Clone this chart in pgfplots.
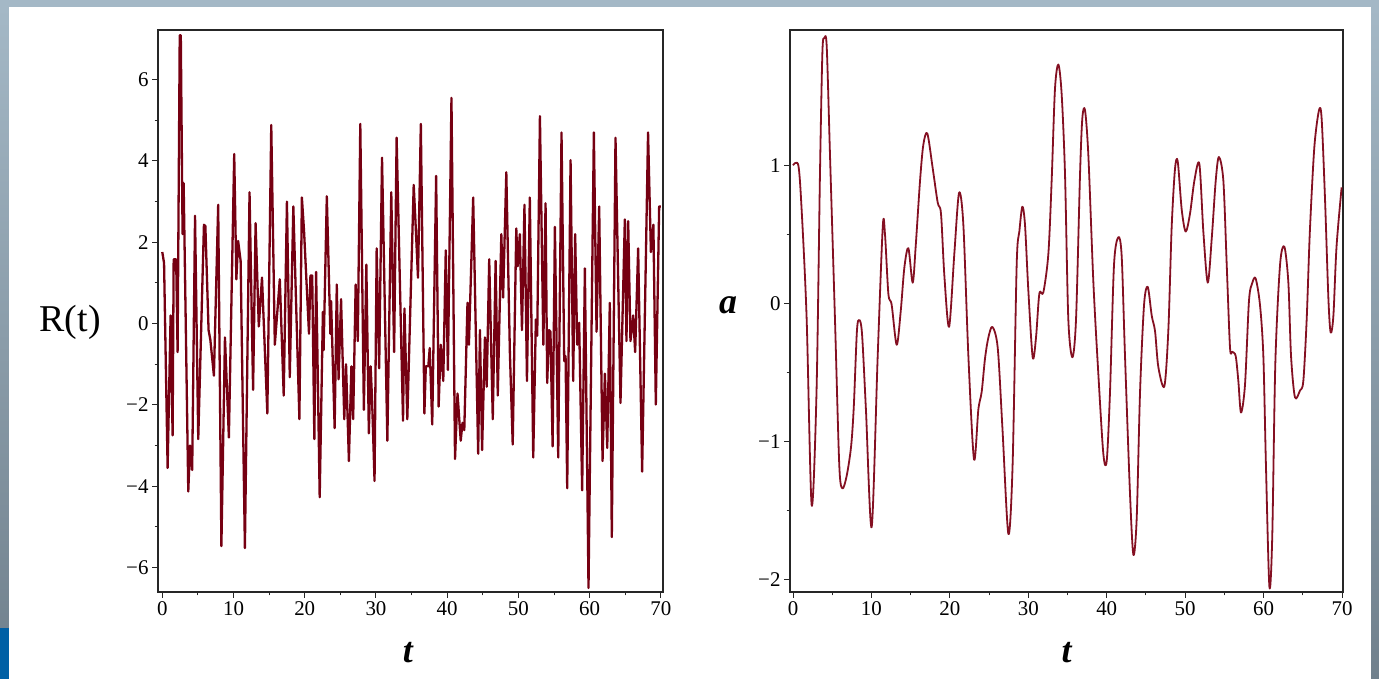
\documentclass[border=0pt]{standalone}
\usepackage{fontspec}
\setmainfont{Liberation Serif}
\usepackage{pgfplots}
\pgfplotsset{compat=1.18}
\definecolor{maroonL}{RGB}{118,0,18}
\definecolor{maroonR}{RGB}{132,16,34}
\definecolor{frameA}{RGB}{164,184,198}
\definecolor{frameB}{RGB}{112,128,140}
\definecolor{bluebar}{RGB}{0,96,165}
\pgfplotsset{
  mystyle/.style={
    scale only axis,
    axis line style={black!85, line width=1.2bp},
    tick style={black!85, line width=1bp},
    tick align=outside,
    tick pos=left,
    major tick length=6bp,
    minor tick length=3.5bp,
    minor x tick num=1,
    minor y tick num=1,
    ticklabel style={font=\fontsize{21}{24}\selectfont},
    /pgf/number format/assume math mode=true,
    xtick={0,10,...,70},
  }
}
\begin{document}
\begin{tikzpicture}[x=1bp,y=1bp]
\useasboundingbox (0,0) rectangle (1379,679);
\fill[frameA] (0,672) rectangle (1379,679);
\shade[top color=frameA,bottom color=frameB] (0,0) rectangle (9,672);
\shade[top color=frameA,bottom color=frameB] (1371,0) rectangle (1379,672);
\fill[bluebar] (0,0) rectangle (9,51);
\fill[white] (9,0) rectangle (1371,672);

\begin{axis}[mystyle, at={(158bp,87bp)}, anchor=south west,
  width=505bp, height=562bp,
  xmin=-0.6, xmax=70.3, ymin=-6.6, ymax=7.22,
  ytick={-6,-4,-2,0,2,4,6}, yticklabels={−6,−4,−2,0,2,4,6},
  xlabel={\fontsize{36}{40}\selectfont\bfseries\itshape t},
  xlabel style={at={(axis description cs:0.495,-0.107)}, anchor=center, inner sep=0pt},
  ylabel={\fontsize{38}{40}\selectfont R(t)},
  ylabel style={at={(axis description cs:-0.174,0.48)}, anchor=center, rotate=-90, inner sep=0pt},
]
\addplot[maroonL, line width=2.3bp, line join=round] coordinates {
(0,1.76) (0.25,1.49) (0.75,-3.55) (1.17,0.2) (1.45,-2.75) (1.6,1.58) (1.95,1.58) (2.15,-0.7)
(2.45,7.09) (2.6,7.09) (2.85,2.2) (3.0,3.45) (3.65,-4.13) (3.9,-3.0) (4.2,-3.6) (4.6,2.65)
(5.05,-2.84) (5.85,2.43) (6.05,2.4) (6.5,-0.16) (6.75,-0.4) (7.25,-1.28) (7.85,2.92) (8.3,-5.47)
(8.8,-0.34) (9.35,-2.8) (10.1,4.17) (10.4,1.09) (10.65,2.03) (11.0,1.54) (11.6,-5.52) (12.25,3.23)
(12.75,-1.63) (13.1,2.47) (13.55,-0.07) (14.0,1.13) (14.75,-2.21) (15.3,4.88) (15.8,-0.52) (16.5,1.09)
(17.05,-1.77) (17.5,3.0) (17.9,-1.32) (18.4,2.88) (19.25,-2.35) (19.6,3.1) (19.9,2.29) (20.6,-0.25)
(20.8,1.18) (21.05,1.18) (21.35,-2.84) (21.6,1.27) (22.1,-4.27) (22.55,0.29) (22.65,-0.65) (23.1,3.13)
(23.6,-0.25) (23.7,0.55) (24.2,-2.57) (24.5,0.96) (24.75,-1.37) (25.1,0.6) (25.55,-2.35) (25.8,-1.0)
(26.2,-3.38) (26.55,-1.05) (26.8,-2.35) (27.15,0.96) (27.45,-0.43) (27.8,4.91) (28.3,-2.12) (28.65,1.45)
(29.0,-2.7) (29.25,-1.05) (29.45,-1.85) (29.8,-3.87) (30.1,1.85) (30.45,-1.1) (30.85,4.08) (31.6,-2.88)
(32.15,3.23) (32.55,-0.7) (32.9,4.57) (33.8,-2.39) (34.0,0.37) (34.4,-2.35) (35.3,3.41) (35.55,2.5)
(35.9,1.13) (36.3,4.91) (36.8,-2.21) (37.0,-1.05) (37.35,-1.05) (37.55,-0.6) (37.9,-2.48) (38.45,3.63)
(38.8,-2.04) (39.1,-0.52) (39.45,-1.41) (39.8,1.8) (40.1,-1.14) (40.6,5.55) (41.1,-3.33) (41.45,-1.72)
(41.9,-2.88) (42.15,-2.44) (42.4,-2.62) (42.85,0.51) (43.05,-0.52) (43.65,3.1) (44.35,-3.2) (44.6,-0.16)
(44.9,-3.11) (45.3,-0.34) (45.55,-1.55) (45.9,1.58) (46.4,-2.35) (46.8,1.54) (47.1,-1.77) (47.6,2.2)
(47.85,0.64) (48.3,3.72) (48.8,-0.7) (49.2,-2.97) (49.7,2.34) (49.9,1.41) (50.2,2.2) (50.5,-0.16)
(50.85,2.92) (51.2,-1.41) (51.6,3.1) (52.08,-3.29) (52.45,0.1) (52.64,-0.3) (53.02,5.1) (53.5,-0.52)
(53.81,2.96) (54.04,-1.46) (54.3,-0.16) (54.5,-0.2) (54.8,-3.02) (55.12,2.38) (55.59,-3.29) (56.05,4.7)
(56.43,-0.92) (56.62,-0.8) (56.85,-4.05) (57.32,4.02) (57.69,-1.41) (57.97,2.2) (58.25,-0.52) (58.53,0.02)
(58.95,-4.1) (59.33,1.36) (59.84,-6.5) (60.59,4.7) (60.97,-0.2) (61.34,2.88) (61.81,-3.38) (62.14,-1.23)
(62.47,-3.06) (62.83,0.51) (63.11,-5.25) (63.63,4.57) (64.33,-1.95) (64.94,2.56) (65.17,-0.43) (65.41,2.52)
(65.73,-0.43) (66.11,0.2) (66.39,-0.7) (66.81,1.85) (67.37,-3.64) (68.2,4.7) (68.6,1.76) (68.95,2.43)
(69.29,-1.99) (69.76,2.88) (70.0,2.88)
};
\end{axis}

\begin{axis}[mystyle, at={(790bp,87bp)}, anchor=south west,
  width=553bp, height=562bp,
  xmin=-0.38, xmax=70.13, ymin=-2.09, ymax=1.98,
  ytick={-2,-1,0,1}, yticklabels={−2,−1,0,1},
  xlabel={\fontsize{36}{40}\selectfont\bfseries\itshape t},
  xlabel style={at={(axis description cs:0.5,-0.107)}, anchor=center, inner sep=0pt},
  ylabel={\fontsize{36}{40}\selectfont\bfseries\itshape a},
  ylabel style={at={(axis description cs:-0.112,0.51)}, anchor=center, rotate=-90, inner sep=0pt},
]
\addplot[maroonR, line width=1.8bp, smooth, line join=round] coordinates {
(0.0,1.0) (0.68,1.0) (1.1,0.68) (1.74,-0.11) (2.38,-1.46) (3.0,-0.64) (3.44,0.94) (3.75,1.82)
(4.0,1.92) (4.3,1.86) (4.72,1.07) (5.35,-0.11) (5.9,-1.17) (6.3,-1.34) (6.84,-1.25) (7.4,-1.04) (7.75,-0.75)
(8.15,-0.2) (8.45,-0.12) (8.8,-0.22) (9.3,-0.77) (10.03,-1.62) (10.8,-0.38) (11.45,0.56) (11.73,0.5)
(12.16,0.07) (12.58,-0.01) (13.22,-0.30) (13.73,-0.06) (14.2,0.26) (14.71,0.40) (15.26,0.15) (15.64,0.41)
(16.2,0.89) (16.62,1.15) (17.13,1.23) (17.81,0.98) (18.45,0.73) (18.87,0.65) (19.3,0.20) (19.9,-0.17)
(20.57,0.36) (21.17,0.80) (21.72,0.57) (22.36,-0.38) (23.08,-1.13) (23.63,-0.77) (24.06,-0.64) (24.48,-0.40)
(24.9,-0.25) (25.42,-0.17) (26.1,-0.32) (26.7,-0.90) (27.46,-1.67) (28.0,-1.17) (28.52,0.28) (28.86,0.52)
(29.24,0.70) (29.58,0.57) (30.0,0.10) (30.56,-0.39) (30.98,-0.25) (31.41,0.07) (31.92,0.08) (32.56,0.36)
(32.98,0.89) (33.4,1.55) (33.83,1.73) (34.25,1.52) (34.68,0.94) (35.1,-0.11) (35.62,-0.39) (36.09,-0.11)
(36.6,0.94) (36.89,1.34) (37.23,1.40) (37.66,1.07) (38.3,0.15) (38.93,-0.51) (39.57,-1.09) (40.0,-1.14)
(40.42,-0.64) (40.93,0.28) (41.49,0.48) (41.91,0.34) (42.33,-0.38) (42.97,-1.38) (43.4,-1.82) (43.82,-1.56)
(44.25,-0.64) (44.76,-0.01) (45.23,0.12) (45.74,-0.09) (46.16,-0.20) (46.58,-0.46) (47.35,-0.60) (47.86,-0.19)
(48.28,0.55) (48.7,0.97) (49.05,1.03) (49.56,0.68) (50.07,0.52) (50.62,0.65) (51.18,0.89) (51.81,1.01)
(52.32,0.52) (52.88,0.15) (53.39,0.47) (53.9,0.89) (54.3,1.06) (54.87,0.89) (55.3,0.28) (55.72,-0.32)
(56.0,-0.35) (56.44,-0.38) (56.78,-0.56) (57.12,-0.79) (57.63,-0.59) (58.14,0.02) (58.57,0.15) (58.99,0.18)
(59.54,-0.01) (59.97,-0.38) (60.3,-1.17) (60.74,-2.05) (61.1,-1.70) (61.5,-0.43) (62.1,0.28) (62.65,0.41)
(63.16,0.15) (63.5,-0.38) (64.0,-0.68) (64.65,-0.63) (65.07,-0.56) (65.5,-0.11) (65.9,0.52) (66.47,1.13)
(67.07,1.40) (67.4,1.34) (67.83,0.76) (68.26,0.04) (68.55,-0.21) (68.9,-0.09) (69.3,0.41) (69.95,0.84)
};
\end{axis}
\end{tikzpicture}
\end{document}
